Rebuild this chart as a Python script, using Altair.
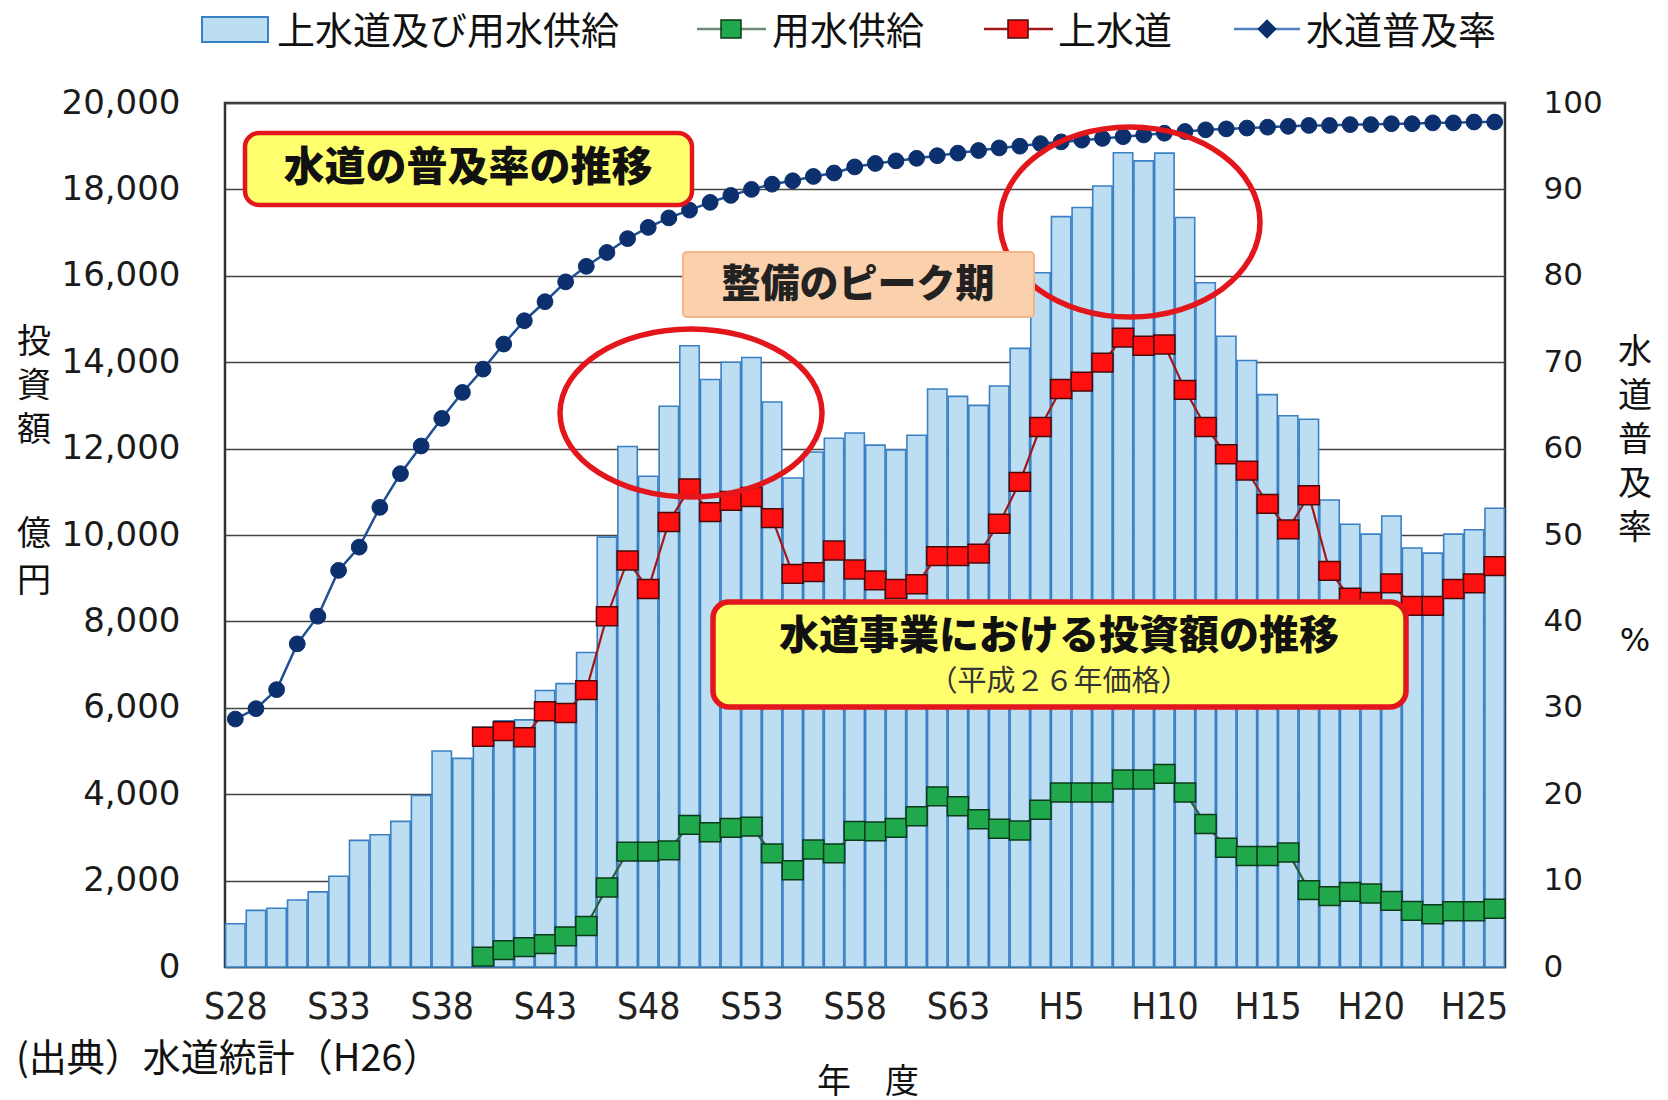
import json
import pandas as pd
import altair as alt

# ---------------- data ----------------
nendo = ["S28", "S29", "S30", "S31", "S32", "S33", "S34", "S35", "S36", "S37",
         "S38", "S39", "S40", "S41", "S42", "S43", "S44", "S45", "S46", "S47",
         "S48", "S49", "S50", "S51", "S52", "S53", "S54", "S55", "S56", "S57",
         "S58", "S59", "S60", "S61", "S62", "S63", "H1", "H2", "H3", "H4",
         "H5", "H6", "H7", "H8", "H9", "H10", "H11", "H12", "H13", "H14",
         "H15", "H16", "H17", "H18", "H19", "H20", "H21", "H22", "H23", "H24",
         "H25", "H26"]

# 上水道及び用水供給 (億円, 平成26年価格)
total_invest = [1000, 1310, 1360, 1550, 1740, 2100, 2930, 3060, 3370, 3970,
                5000, 4830, 5550, 5700, 5720, 6400, 6560, 7280, 9950, 12050,
                11360, 12980, 14380, 13600, 14000, 14110, 13080, 11320, 11920, 12240,
                12360, 12080, 11970, 12310, 13380, 13210, 13000, 13450, 14320, 16070,
                17370, 17580, 18080, 18850, 18660, 18840, 17350, 15840, 14600, 14040,
                13250, 12760, 12680, 10810, 10250, 10020, 10440, 9700, 9580, 10020,
                10120, 10620]

# 用水供給
bulk_supply = [None] * 12 + [
    240, 390, 460, 530, 710, 950, 1840, 2670,
    2670, 2700, 3290, 3120, 3220, 3250, 2630, 2240, 2720, 2630,
    3150, 3140, 3220, 3490, 3950, 3720, 3420, 3200, 3160, 3640,
    4040, 4040, 4040, 4340, 4340, 4470, 4040, 3310, 2760, 2570,
    2570, 2650, 1780, 1640, 1740, 1700, 1530, 1300, 1220, 1290,
    1290, 1350]

# 上水道
water_works = [None] * 12 + [
    5330, 5460, 5320, 5920, 5880, 6410, 8120, 9410,
    8750, 10300, 11080, 10530, 10790, 10880, 10390, 9100, 9140, 9640,
    9200, 8950, 8750, 8860, 9510, 9510, 9570, 10260, 11230, 12500,
    13380, 13550, 13990, 14570, 14380, 14410, 13360, 12500, 11870, 11490,
    10720, 10130, 10920, 9170, 8550, 8450, 8880, 8360, 8360, 8750,
    8880, 9280]

# 水道普及率 (%)
coverage = [28.7, 29.9, 32.1, 37.4, 40.6, 45.9, 48.6, 53.2, 57.1, 60.3,
            63.5, 66.5, 69.2, 72.1, 74.8, 77.0, 79.3, 81.1, 82.7, 84.3,
            85.6, 86.7, 87.6, 88.5, 89.3, 90.0, 90.6, 91.0, 91.5, 91.9,
            92.6, 93.0, 93.3, 93.6, 93.9, 94.2, 94.5, 94.8, 95.0, 95.3,
            95.5, 95.7, 95.9, 96.1, 96.3, 96.5, 96.7, 96.9, 97.0, 97.1,
            97.2, 97.3, 97.4, 97.4, 97.5, 97.5, 97.6, 97.6, 97.7, 97.7,
            97.8, 97.8]

legend_labels = ["上水道及び用水供給", "用水供給", "上水道", "水道普及率"]
x_tick_pos = [0, 5, 10, 15, 20, 25, 30, 35, 40, 45, 50, 55, 60]
left_ticks = [0, 2000, 4000, 6000, 8000, 10000, 12000, 14000, 16000, 18000, 20000]
right_ticks = [0, 10, 20, 30, 40, 50, 60, 70, 80, 90, 100]

df = pd.DataFrame({
    "i": list(range(len(nendo))),
    "nendo": nendo,
    "total": total_invest,
    "bulk": bulk_supply,
    "works": water_works,
    "cov": coverage,
})

# ---------------- styling ----------------
W, H = 1280, 864
CJK = "Noto Sans CJK JP"
NUM = "DejaVu Sans"
NARROW = "Liberation Sans Narrow, Arial Narrow, DejaVu Sans Condensed, sans-serif"

BAR_FILL = "#BDDDF2"
BAR_STROKE = "#3A80C4"
RED = "#FF1010"
RED_LINE = "#A01818"
GREEN = "#1FA84C"
GREEN_LINE = "#2F5E3A"
NAVY = "#0C2F6E"
BLUE_LINE = "#1F4F95"
SQ = "M-1,-0.9L1,-0.9L1,0.9L-1,0.9Z"

xscale = alt.Scale(domain=[-0.5, len(nendo) - 0.5], nice=False, zero=False)
yl = alt.Scale(domain=[0, 20000], nice=False, zero=True)
yr = alt.Scale(domain=[0, 100], nice=False, zero=True)

x_axis = alt.Axis(values=x_tick_pos, labelExpr=json.dumps(nendo) + "[datum.value]",
                  grid=False, domain=False, ticks=False, tickSize=0, labelFlush=False,
                  labelFont=NARROW, labelFontSize=37, labelColor="#222222",
                  labelBaseline="middle", labelPadding=40, title=None)
left_axis = alt.Axis(values=left_ticks, format=",d", grid=True, gridColor="#444444",
                     gridWidth=1.6, domain=False, ticks=False, tickSize=0,
                     labelFont=NUM, labelFontSize=34, labelColor="#1a1a1a",
                     labelPadding=45, title=None)
right_axis = alt.Axis(orient="right", values=right_ticks, grid=False, domain=False,
                      ticks=False, tickSize=0, labelFont=NUM, labelFontSize=31,
                      labelColor="#1a1a1a", labelPadding=38, title=None)

X = alt.X("i:Q", scale=xscale, axis=x_axis)
base = alt.Chart(df)

bars = base.transform_calculate(x0="datum.i - 0.47", x1="datum.i + 0.47").mark_rect(
    fill=BAR_FILL, stroke=BAR_STROKE, strokeWidth=1.6
).encode(
    x=alt.X("x0:Q", scale=xscale, axis=x_axis),
    x2="x1:Q",
    y=alt.Y("total:Q", scale=yl, axis=left_axis),
    y2=alt.datum(0),
)

g_line = base.mark_line(color=GREEN_LINE, strokeWidth=2.2).encode(
    x=X, y=alt.Y("bulk:Q", scale=yl, axis=None))
g_pts = base.mark_point(shape=SQ, size=441, filled=True, fill=GREEN, stroke="#0B3B1A",
                        strokeWidth=1.5, opacity=1).encode(
    x=X, y=alt.Y("bulk:Q", scale=yl, axis=None))
r_line = base.mark_line(color=RED_LINE, strokeWidth=2.2).encode(
    x=X, y=alt.Y("works:Q", scale=yl, axis=None))
r_pts = base.mark_point(shape=SQ, size=441, filled=True, fill=RED, stroke="#4A0A0A",
                        strokeWidth=1.5, opacity=1).encode(
    x=X, y=alt.Y("works:Q", scale=yl, axis=None))
b_line = base.mark_line(color=BLUE_LINE, strokeWidth=2.5).encode(
    x=X, y=alt.Y("cov:Q", scale=yr, axis=right_axis))
b_pts = base.mark_point(shape="circle", size=250, filled=True, fill=NAVY, stroke=NAVY,
                        strokeWidth=1, opacity=1).encode(
    x=X, y=alt.Y("cov:Q", scale=yr, axis=None))


def one():
    return alt.Chart(pd.DataFrame({"k": [0]}))


def txt(s, x, y, size, weight="normal", align="center", color="#111111", font=CJK, lh=None):
    kw = dict(font=font, fontSize=size, fontWeight=weight, align=align,
              baseline="middle", color=color)
    if lh is not None:
        kw["lineHeight"] = lh
    return one().mark_text(**kw).encode(x=alt.value(x), y=alt.value(y), text=alt.value(s))


def box(x1, x2, y1, y2, fill, stroke, sw, r):
    return one().mark_rect(fill=fill, stroke=stroke, strokeWidth=sw, cornerRadius=r).encode(
        x=alt.value(x1), x2=alt.value(x2), y=alt.value(y1), y2=alt.value(y2))


def ellipse(cx, cy, rx, ry):
    ratio = ry / rx
    path = f"M-1,0A1,{ratio:.3f},0,1,1,1,0A1,{ratio:.3f},0,1,1,-1,0Z"
    return one().mark_point(shape=path, size=(2 * rx) ** 2, filled=False, stroke="#E3161B",
                            strokeWidth=5.5, opacity=1).encode(x=alt.value(cx), y=alt.value(cy))


def hrule(x1, x2, y, color, w):
    return one().mark_rule(color=color, strokeWidth=w).encode(
        x=alt.value(x1), x2=alt.value(x2), y=alt.value(y))


def sym(x, y, shape, fill, stroke, size):
    return one().mark_point(shape=shape, size=size, filled=True, fill=fill, stroke=stroke,
                            strokeWidth=1.5, opacity=1).encode(x=alt.value(x), y=alt.value(y))


LY = -70
MY = -74
annots = [
    # legend
    box(-23, 43, -86, -61, BAR_FILL, BAR_STROKE, 2, 0),
    txt(legend_labels[0], 52, LY, 38, align="left"),
    hrule(472, 541, MY, "#6E8A74", 2.5),
    sym(506, MY, SQ, GREEN, "#0B3B1A", 400),
    txt(legend_labels[1], 547, LY, 38, align="left"),
    hrule(759, 828, MY, RED_LINE, 2.5),
    sym(793, MY, SQ, RED, "#4A0A0A", 400),
    txt(legend_labels[2], 833, LY, 38, align="left"),
    hrule(1009, 1075, MY, "#4F7FC0", 2.5),
    sym(1042, MY, "diamond", NAVY, NAVY, 300),
    txt(legend_labels[3], 1081, LY, 38, align="left"),
    # axis titles
    txt(["投", "資", "額"], -191, 240, 34, lh=44),
    txt(["億", "円"], -191, 432, 34, lh=47),
    txt(["水", "道", "普", "及", "率"], 1410, 250, 34, lh=44),
    txt("%", 1410, 538, 32, font=NUM),
    txt("年　度", 643, 980, 34),
    txt("(出典）水道統計（H26）", -209, 957, 38, align="left"),
    # annotation boxes and ellipses
    ellipse(466, 310, 131, 84),
    ellipse(905, 119, 130, 95),
    box(20, 467, 30, 102, "#FFFF6E", "#E3161B", 4.5, 14),
    txt("水道の普及率の推移", 243, 66, 41, weight=900),
    box(458, 809, 149, 214, "#FBD0AC", "#F2B488", 2, 4),
    txt("整備のピーク期", 633, 182, 39, weight=900, color="#222222"),
    box(488, 1181, 499, 604, "#FFFF6E", "#E3161B", 5.5, 16),
    txt("水道事業における投資額の推移", 834, 534, 40, weight=900),
    txt("（平成２６年価格）", 834, 579, 29, color="#333333"),
]

chart = alt.layer(bars, g_line, g_pts, r_line, r_pts, b_line, b_pts, *annots).resolve_scale(
    y="independent"
).properties(
    width=W, height=H, padding={"left": 8, "top": 6, "right": 5, "bottom": 0},
    background="white",
).configure_view(stroke="#333333", strokeWidth=2.5)

chart.save("out.html", embed_options={"renderer": "svg", "actions": False})
